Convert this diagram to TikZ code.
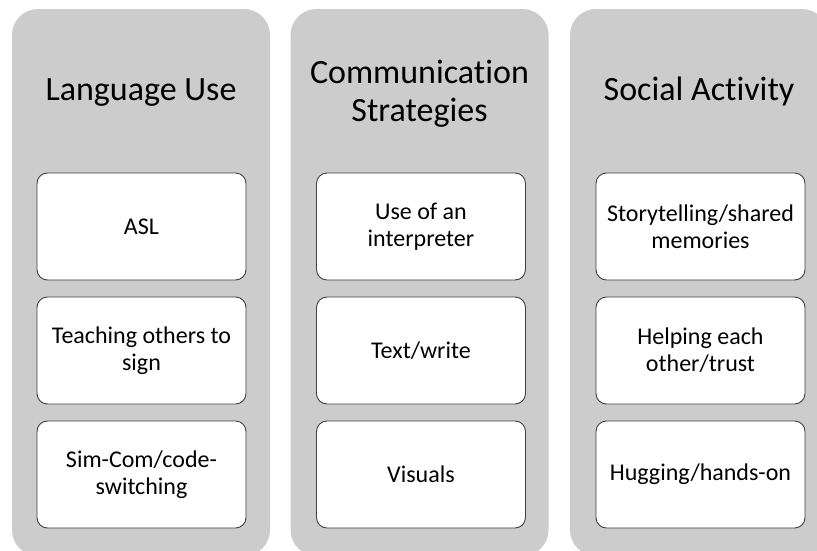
\documentclass[tikz,border=0pt]{standalone}
\usepackage{fontspec}
\setmainfont{Carlito}[Ligatures=NoCommon]
\definecolor{colgray}{RGB}{204,204,204}
\definecolor{boxborder}{RGB}{64,64,64}
\begin{document}
\begin{tikzpicture}[x=1pt,y=-1pt,
  col/.style={fill=colgray, rounded corners=26pt, minimum width=258pt, minimum height=547pt, inner sep=0pt},
  item/.style={draw=boxborder, line width=0.9pt, fill=white, rounded corners=10.5pt,
    minimum width=209pt, minimum height=107pt, text width=205pt, align=flush center,
    font=\fontsize{24}{27}\selectfont, inner sep=0pt},
  title/.style={align=flush center, font=\fontsize{34}{38}\selectfont, inner sep=0pt}]
\useasboundingbox (0,0) rectangle (817,550);
\clip (0,0) rectangle (817,550);
% columns
\node[col] (c1) at (141,282.5) {};
\node[col] (c2) at (419.5,282.5) {};
\node[col] (c3) at (699,282.5) {};
% titles
\node[title, anchor=base] (t1) at (141,100) {Language Use};
\node[title] (t2) at (419.5,93.5) {Communication\\Strategies};
\node[title, anchor=base] (t3) at (699,100) {Social Activity};
% items
\node[item] (a1) at (141.5,226.5) {ASL};
\node[item] (a2) at (141.5,350.5) {Teaching others to\\sign};
\node[item] (a3) at (141.5,474.5) {Sim-Com/code-\\switching};
\node[item] (b1) at (421,226.5) {Use of an\\interpreter};
\node[item] (b2) at (421,350.5) {Text/write};
\node[item] (b3) at (421,474.5) {Visuals};
\node[item] (s1) at (700.5,226.5) {Storytelling/shared\\memories};
\node[item] (s2) at (700.5,350.5) {Helping each\\other/trust};
\node[item] (s3) at (700.5,474.5) {Hugging/hands-on};
\end{tikzpicture}
\end{document}
